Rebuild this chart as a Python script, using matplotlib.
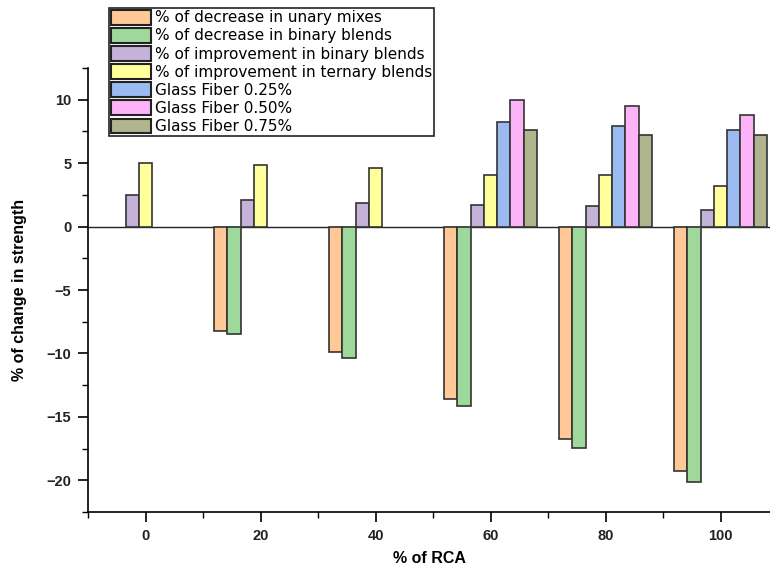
import matplotlib
matplotlib.use("Agg")
import matplotlib.pyplot as plt
import numpy as np
from matplotlib.patches import Patch
from matplotlib.ticker import MultipleLocator

plt.rcParams['font.family'] = ['Liberation Sans', 'DejaVu Sans']

rca = [0, 20, 40, 60, 80, 100]
series_names = [
    "% of decrease in unary mixes",
    "% of decrease in binary blends",
    "% of improvement in binary blends",
    "% of improvement in ternary blends",
    "Glass Fiber 0.25%",
    "Glass Fiber 0.50%",
    "Glass Fiber 0.75%",
]
unary_dec = [0, -8.26, -9.89, -13.6, -16.73, -19.26]
binary_dec = [0, -8.47, -10.39, -14.13, -17.47, -20.13]
binary_imp = [2.5, 2.1, 1.89, 1.72, 1.61, 1.32]
ternary_imp = [5.0, 4.87, 4.6, 4.08, 4.08, 3.21]
gf025 = [0, 0, 0, 8.24, 7.92, 7.6]
gf050 = [0, 0, 0, 9.95, 9.47, 8.82]
gf075 = [0, 0, 0, 7.58, 7.21, 7.21]
series = [unary_dec, binary_dec, binary_imp, ternary_imp, gf025, gf050, gf075]
colors = ["#FFC896", "#9FD89B", "#C4B2D8", "#FFFF9C", "#9BBAF2", "#FDB3F8", "#B0B58D"]

fig = plt.figure(figsize=(7.7, 5.7), dpi=100)
ax = fig.add_axes([88/770, 58/570, 1 - 88/770, (512-68)/570])

w = 2.3
x = np.array(rca, dtype=float)
for i, (vals, c) in enumerate(zip(series, colors)):
    v = np.array(vals, dtype=float)
    mask = v != 0
    ax.bar(x[mask] + (i - 3) * w, v[mask], width=w, color=c,
           edgecolor="#333333", linewidth=1.2, zorder=3)

ax.axhline(0, color="#222222", linewidth=1.0, zorder=2)
ax.set_xlim(-10, 108.6)
ax.set_ylim(-22.5, 12.5)
ax.spines['top'].set_visible(False)
ax.spines['right'].set_visible(False)
ax.spines['left'].set_linewidth(1.2)
ax.spines['bottom'].set_linewidth(1.2)
ax.set_xticks(rca)
ax.xaxis.set_minor_locator(MultipleLocator(10))
ax.yaxis.set_major_locator(MultipleLocator(5))
ax.yaxis.set_minor_locator(MultipleLocator(2.5))
ax.tick_params(which='major', direction='out', length=7, width=1.2, labelsize=10.5, pad=5)
ax.tick_params(which='minor', direction='out', length=4, width=1.0)
for lab in ax.get_xticklabels() + ax.get_yticklabels():
    lab.set_fontweight('bold')
    lab.set_color('#222222')
ax.set_xlabel("% of RCA", fontsize=11.5, fontweight='bold', labelpad=6)
ax.set_ylabel("% of change in strength", fontsize=11.5, fontweight='bold', labelpad=14)

handles = [Patch(facecolor=c, edgecolor='#222222', linewidth=1.5) for c in colors]
leg = fig.legend(handles, series_names, loc='upper left',
                 bbox_to_anchor=(109/770, 1 - 8/570), frameon=True, fancybox=False,
                 edgecolor='#222222', framealpha=1, prop={'family': 'DejaVu Sans', 'size': 11},
                 handlelength=2.6, handleheight=1.1, labelspacing=0.17,
                 handletextpad=0.3, borderpad=0.12, borderaxespad=0)
leg.get_frame().set_linewidth(1.2)

fig.savefig("out.png", dpi=100)
